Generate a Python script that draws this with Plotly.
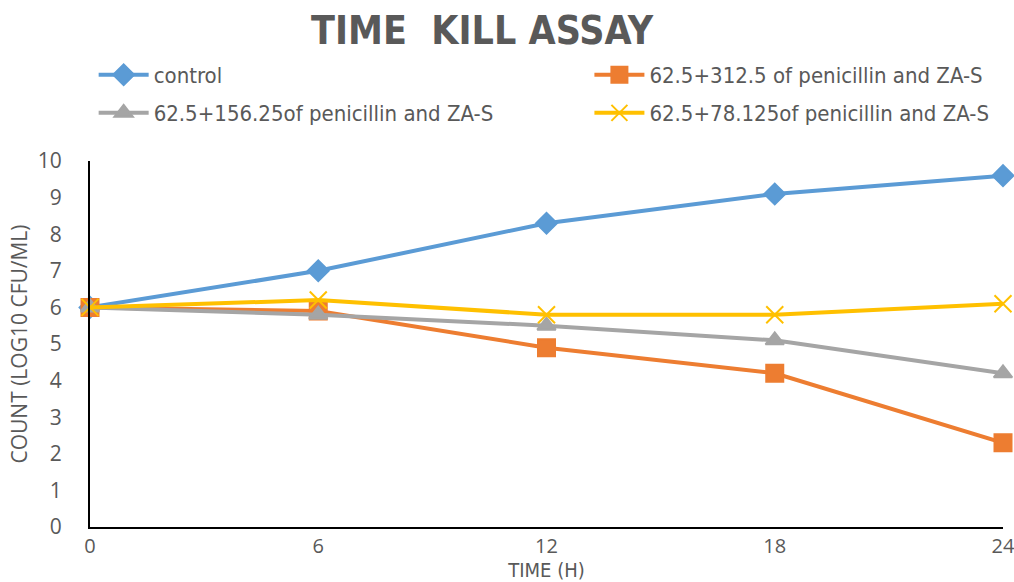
import plotly.graph_objects as go

time_h = [0, 6, 12, 18, 24]
control = [6.0, 7.0, 8.3, 9.1, 9.6]
pen_312 = [6.0, 5.9, 4.9, 4.2, 2.3]
pen_156 = [6.0, 5.8, 5.5, 5.1, 4.2]
pen_78 = [6.0, 6.2, 5.8, 5.8, 6.1]

names = ["control", "62.5+312.5 of penicillin and ZA-S",
         "62.5+156.25of penicillin and ZA-S", "62.5+78.125of penicillin and ZA-S"]
colors = ["#5B9BD5", "#ED7D31", "#A5A5A5", "#FFC000"]
symbols = ["diamond", "square", "triangle-up", "x-thin-open"]
sizes = [16, 17, 16, 17]
legends = ["legend", "legend2", "legend3", "legend4"]
series = [control, pen_312, pen_156, pen_78]

fig = go.Figure()
for s, n, c, sym, sz, lg in zip(series, names, colors, symbols, sizes, legends):
    fig.add_trace(go.Scatter(
        x=time_h, y=s, name=n, mode="lines+markers",
        line=dict(color=c, width=4),
        marker=dict(symbol=sym, size=sz, color=c, line=dict(color=c, width=2)),
        cliponaxis=False, legend=lg))

fnt = "Open Sans, DejaVu Sans, sans-serif"
narrow = "Liberation Sans Narrow, DejaVu Sans Condensed, sans-serif"
grey = "#595959"

def leg(x, y):
    return dict(x=x, y=y, xanchor="left", yanchor="middle", itemwidth=50,
                font=dict(family=narrow, size=22, color=grey),
                bgcolor="rgba(0,0,0,0)")

fig.update_layout(
    width=1014, height=582,
    margin=dict(l=90, r=11, t=161, b=55),
    paper_bgcolor="white", plot_bgcolor="white",
    font=dict(family=fnt, color=grey, size=17),
    title=dict(text="<b>TIME\u00a0 KILL ASSAY</b>", x=0.4755, xanchor="center",
               y=0.948, yanchor="middle",
               font=dict(family=narrow, size=39, color=grey)),
    legend=leg(0.004, 1.235),
    legend2=leg(0.547, 1.235),
    legend3=leg(0.004, 1.131),
    legend4=leg(0.547, 1.131),
    showlegend=True,
)
fig.update_xaxes(range=[0, 24], tickvals=time_h, showgrid=False, zeroline=False,
                 showline=True, linecolor="black", linewidth=2, ticks="",
                 automargin=False, ticklabeloverflow="allow",
                 tickfont=dict(size=20, color=grey),
                 title=dict(text="TIME (H)", standoff=0,
                            font=dict(family=narrow, size=20, color=grey)))
fig.update_yaxes(range=[0, 10], dtick=1, showgrid=False, zeroline=False,
                 showline=True, linecolor="black", linewidth=2, ticks="",
                 automargin=False, ticklabelstandoff=22,
                 tickfont=dict(size=21, color=grey),
                 title=dict(text="COUNT (LOG10 CFU/ML)", standoff=4,
                            font=dict(size=21, color=grey)))
fig.write_html("out.html", config={"displayModeBar": False},
               post_script="document.body.style.margin='0';document.body.style.overflow='hidden';")
